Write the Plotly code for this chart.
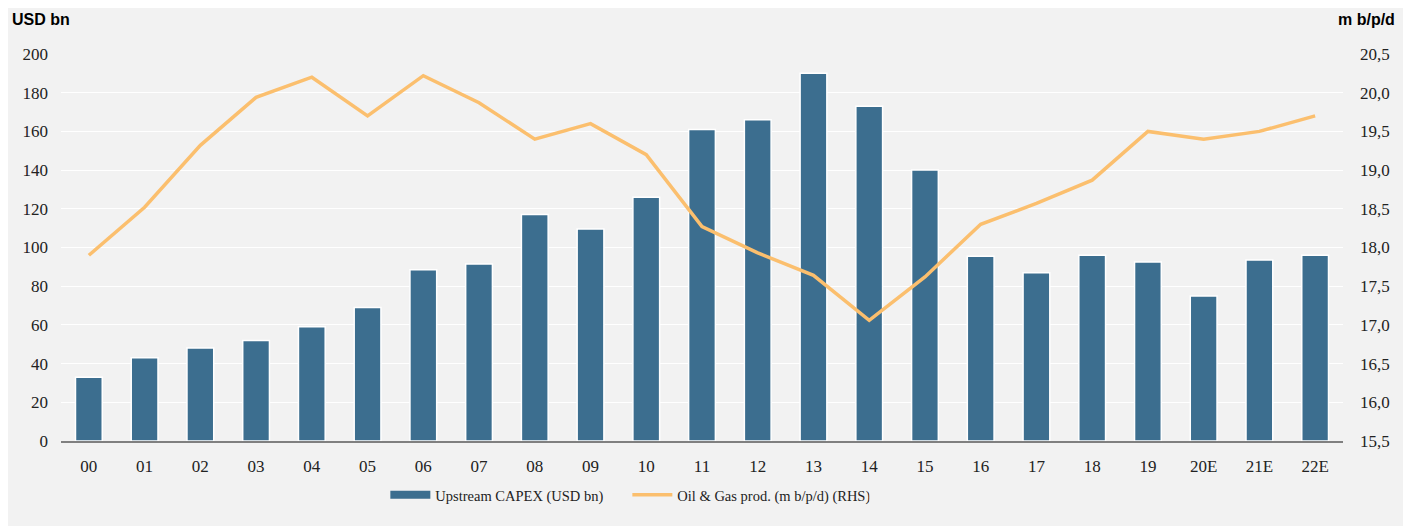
"""Upstream CAPEX vs oil & gas production combo chart"""

import plotly.graph_objects as go

YEARS = ["00", "01", "02", "03", "04", "05", "06", "07", "08", "09", "10",
         "11", "12", "13", "14", "15", "16", "17", "18", "19", "20E", "21E", "22E"]

# Upstream CAPEX, USD bn (left axis)
CAPEX = [33, 43, 48, 52, 59, 69, 88.5, 91.5, 117, 109.5, 126,
         161, 166, 190, 173, 140, 95.5, 87, 96, 92.5, 75, 93.5, 96]

# Oil & gas production, m b/p/d (right axis)
PROD = [17.9, 18.52, 19.32, 19.94, 20.2, 19.7, 20.22, 19.87, 19.4, 19.6, 19.2,
        18.27, 17.93, 17.64, 17.06, 17.62, 18.3, 18.57, 18.87, 19.5, 19.4, 19.5, 19.7]

LEFT_TICKS = [0, 20, 40, 60, 80, 100, 120, 140, 160, 180, 200]
RIGHT_TICKS = [15.5, 16.0, 16.5, 17.0, 17.5, 18.0, 18.5, 19.0, 19.5, 20.0, 20.5]

BAR_COLOR = "#3c6e8f"
LINE_COLOR = "#fbbf6e"
BG = "#f2f2f2"
SERIF = "Liberation Serif"
SANS = "Liberation Sans"

fig = go.Figure()

fig.add_trace(
    go.Bar(
        x=YEARS,
        y=CAPEX,
        name="Upstream CAPEX (USD bn)",
        marker=dict(color=BAR_COLOR, line=dict(color="white", width=1.5)),
        width=0.48,
        showlegend=False,
    )
)

# legend-only stand-in so the bar key is drawn as a wide block
fig.add_trace(
    go.Scatter(
        x=[None],
        y=[None],
        name="Upstream CAPEX (USD bn)",
        mode="lines",
        line=dict(color=BAR_COLOR, width=8),
        showlegend=True,
    )
)

fig.add_trace(
    go.Scatter(
        x=YEARS,
        y=PROD,
        name="Oil & Gas prod. (m b/p/d) (RHS)",
        mode="lines",
        line=dict(color=LINE_COLOR, width=3.5),
        yaxis="y2",
    )
)

# page body adds an 8px offset, so the figure is 8px smaller than the window
fig.update_layout(
    width=1403,
    height=519,
    margin=dict(l=53, r=68, t=46, b=86),
    paper_bgcolor="white",
    plot_bgcolor=BG,
    separators=", ",
    showlegend=True,
    legend=dict(
        orientation="h",
        x=0.253,
        xanchor="left",
        y=-0.098,
        yanchor="top",
        font=dict(family=SERIF, size=14.5, color="#222"),
        bgcolor="rgba(0,0,0,0)",
        itemwidth=40,
        entrywidth=187,
        entrywidthmode="pixels",
    ),
    xaxis=dict(
        type="category",
        range=[-0.5, 22.5],
        showgrid=False,
        showline=True,
        linecolor="#808080",
        linewidth=2,
        ticks="",
        ticklabelstandoff=9,
        tickfont=dict(family=SERIF, size=17, color="#222"),
        fixedrange=True,
    ),
    yaxis=dict(
        range=[0, 200],
        tickvals=LEFT_TICKS,
        showgrid=True,
        gridcolor="white",
        gridwidth=1,
        zeroline=False,
        ticks="",
        ticklabelstandoff=12,
        tickfont=dict(family=SERIF, size=17, color="#222"),
        fixedrange=True,
    ),
    yaxis2=dict(
        range=[15.5, 20.5],
        tickvals=RIGHT_TICKS,
        tickformat=".1f",
        overlaying="y",
        side="right",
        showgrid=False,
        zeroline=False,
        ticks="",
        ticklabelstandoff=16,
        tickfont=dict(family=SERIF, size=17, color="#222"),
        fixedrange=True,
    ),
    annotations=[
        dict(text="<b>USD bn</b>", xref="paper", yref="paper", x=-0.040, y=1.09,
             xanchor="left", yanchor="middle", showarrow=False,
             font=dict(family=SANS, size=16, color="black")),
        dict(text="<b>m b/p/d</b>", xref="paper", yref="paper", x=1.042, y=1.09,
             xanchor="right", yanchor="middle", showarrow=False,
             font=dict(family=SANS, size=16, color="black")),
    ],
    shapes=[
        # light grey card behind the whole chart
        dict(type="rect", xref="paper", yref="paper", x0=-0.0437, x1=1.0484,
             y0=-0.2196, y1=1.1318, fillcolor=BG, line=dict(width=0), layer="below"),
    ],
)

fig.write_html("out.html")
